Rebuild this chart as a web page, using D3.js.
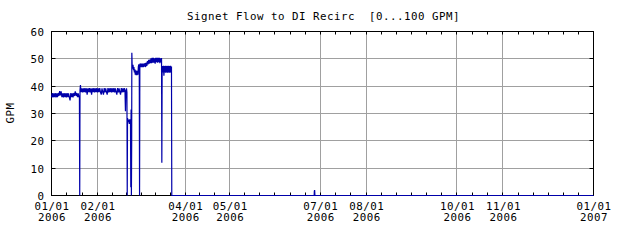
<!DOCTYPE html>
<html><head><meta charset="utf-8">
<script src="https://cdn.jsdelivr.net/npm/d3@7"></script>
<style>
html,body{margin:0;padding:0;background:#fff;}
svg{display:block;}
text{font-family:"DejaVu Sans Mono",monospace;font-size:10.8px;fill:#000;letter-spacing:0.5px;}
</style>
</head><body><svg id="chart" width="640" height="240"></svg>
<script>
const titleText = "Signet Flow to DI Recirc  [0...100 GPM]";
const yLabel = "GPM";
const yTicks = [0, 10, 20, 30, 40, 50, 60];
const xTickDates = ["2006-01-01","2006-02-01","2006-04-01","2006-05-01","2006-07-01","2006-08-01","2006-10-01","2006-11-01","2007-01-01"];
const xTickLabels = [["01/01","2006"],["02/01","2006"],["04/01","2006"],["05/01","2006"],["07/01","2006"],["08/01","2006"],["10/01","2006"],["11/01","2006"],["01/01","2007"]];

// days since 2006-01-01
const sampleDay = [
  0, 0.5, 1, 1.5, 2, 2.5, 3, 3.5, 4, 4.5,
  5, 5.5, 6, 6.5, 7, 7.5, 8, 8.5, 9, 9.5,
  10, 10.5, 11, 11.5, 12, 12.5, 13, 13.5, 14, 14.5,
  15, 15.5, 16, 16.5, 17, 17.5, 18, 18.5, 18.8, 19.0,
  19.2, 19.5, 19.8, 20, 20.5, 21, 21.5, 22, 22.5, 23,
  23.5, 24, 24.5, 25, 25.5, 26, 26.5, 27, 27.5, 28,
  28.5, 29, 29.5, 30, 30.5, 31, 31.5, 32, 32.5, 33,
  33.5, 34, 34.5, 35, 35.5, 36, 36.5, 37, 37.5, 38,
  38.5, 39, 39.5, 40, 40.5, 41, 41.5, 42, 42.5, 43,
  43.5, 44, 44.5, 45, 45.5, 46, 46.5, 47, 47.5, 48,
  48.5, 49, 49.5, 49.8, 50.1, 50.5, 50.8, 51.0, 51.2, 51.6,
  52.0, 52.4, 52.8, 53.2, 53.4, 53.6, 53.8, 54.0, 54.1, 54.3,
  54.6, 54.9, 55.2, 55.5, 55.8, 56.1, 56.4, 56.7, 57.0, 57.3,
  57.6, 57.9, 58.2, 58.5, 58.8, 59.1, 59.3, 59.5, 59.8, 60.2,
  60.6, 61.0, 61.4, 61.8, 62.2, 62.6, 63.0, 63.4, 63.8, 64.2,
  64.6, 65.0, 65.4, 65.8, 66.2, 66.6, 67.0, 67.4, 67.8, 68.2,
  68.6, 69.0, 69.4, 69.8, 70.2, 70.6, 71.0, 71.4, 71.8, 72.2,
  72.6, 73.0, 73.4, 73.8, 74.1, 74.3, 74.5, 74.8, 75.1, 75.4,
  75.7, 76.0, 76.3, 76.6, 76.9, 77.2, 77.5, 77.8, 78.1, 78.4,
  78.7, 79.0, 79.3, 79.6, 79.9, 80.2, 80.5, 80.8, 81.0, 176.9,
  177.0, 177.2, 177.4, 365
];
const sampleGpm = [
  35.9, 37.5, 35.9, 37.4, 36.0, 37.5, 35.9, 37.4, 36.0, 37.5,
  36.4, 38.2, 36.6, 38.1, 36.0, 37.4, 35.9, 37.5, 36.0, 37.4,
  35.9, 37.5, 36.0, 37.4, 35.9, 34.8, 37.5, 36.0, 37.4, 35.9,
  37.5, 36.4, 38.1, 36.5, 37.5, 36.0, 37.4, 35.9, 36.6, 0,
  38.6, 40.4, 38.2, 37.8, 39.2, 37.7, 39.2, 37.8, 39.3, 37.7,
  39.2, 36.9, 39.2, 37.8, 39.3, 37.7, 39.2, 36.9, 39.2, 37.8,
  39.3, 37.7, 39.2, 37.8, 39.3, 37.7, 39.2, 37.8, 39.3, 37.7,
  36.9, 39.2, 37.8, 36.9, 39.3, 37.7, 39.2, 37.8, 36.9, 39.3,
  37.7, 39.2, 37.8, 39.3, 37.7, 39.2, 37.8, 39.3, 37.7, 39.2,
  37.8, 36.9, 39.3, 37.7, 39.2, 37.8, 36.9, 39.3, 37.7, 39.2,
  37.8, 39.3, 37.7, 30.8, 38.5, 39.2, 37.8, 0, 28.3, 26.8,
  27.8, 26.2, 27.9, 26.3, 3.0, 31.5, 0, 20.0, 52.2, 48.0,
  46.4, 47.8, 45.8, 47.0, 45.0, 46.2, 44.2, 45.8, 44.0, 45.6,
  44.0, 45.6, 44.2, 47.2, 48.0, 47.0, 0, 47.6, 48.3, 47.0,
  48.3, 47.0, 48.3, 47.0, 48.3, 47.1, 48.4, 47.0, 48.6, 47.4,
  49.2, 48.0, 49.6, 48.2, 49.7, 48.4, 50.2, 48.4, 50.4, 48.6,
  50.4, 48.6, 50.2, 48.2, 50.4, 48.8, 50.4, 48.6, 50.4, 48.8,
  50.4, 48.4, 50.2, 48.8, 50.3, 12.0, 45.5, 47.4, 45.0, 47.5,
  43.8, 47.4, 45.0, 47.5, 44.9, 47.4, 45.0, 47.5, 44.9, 47.4,
  45.0, 47.5, 44.9, 47.4, 45.0, 47.5, 44.9, 47.2, 0, 0,
  1.6, 2.0, 0, 0
];

const plotLeft = 51.5, plotRight = 593.5, plotTop = 31.5, plotBottom = 195.5;
const lineColor = "#0000aa", gridColor = "#a0a0a0";
const parse = d3.utcParse("%Y-%m-%d");
const t0 = parse("2006-01-01");
const x = d3.scaleUtc().domain([t0, parse("2007-01-01")]).range([plotLeft, plotRight]);
const y = d3.scaleLinear().domain([0, 60]).range([plotBottom, plotTop]);
const snap = v => Math.round(v - 0.5) + 0.5;

const svg = d3.select("#chart");
const majors = xTickDates.map(parse);

// grid
const g = svg.append("g");
g.selectAll("line.vg").data(majors.slice(1, -1)).enter().append("line")
  .attr("x1", d => snap(x(d))).attr("x2", d => snap(x(d)))
  .attr("y1", plotTop).attr("y2", plotBottom)
  .attr("stroke", gridColor).attr("stroke-width", 1);
g.selectAll("line.hg").data(yTicks.slice(1, -1)).enter().append("line")
  .attr("x1", plotLeft).attr("x2", plotRight)
  .attr("y1", d => snap(y(d))).attr("y2", d => snap(y(d)))
  .attr("stroke", gridColor).attr("stroke-width", 1);

// frame
svg.append("rect").attr("x", plotLeft).attr("y", plotTop)
  .attr("width", plotRight - plotLeft).attr("height", plotBottom - plotTop)
  .attr("fill", "none").attr("stroke", "#000").attr("stroke-width", 1);

// x ticks (major + minor subdivisions of ~10 days)
const tickPos = [];
for (let i = 0; i < majors.length; i++) {
  tickPos.push(x(majors[i]));
  if (i < majors.length - 1) {
    const a = majors[i], b = majors[i + 1];
    const months = (b.getUTCFullYear() - a.getUTCFullYear()) * 12 + b.getUTCMonth() - a.getUTCMonth();
    const n = months * 3;
    for (let k = 1; k < n; k++) tickPos.push(x(a) + (x(b) - x(a)) * k / n);
  }
}
const tk = svg.append("g").attr("stroke", "#000").attr("stroke-width", 1);
tickPos.forEach(p => {
  const px = snap(p);
  tk.append("line").attr("x1", px).attr("x2", px).attr("y1", plotTop).attr("y2", plotTop + 3);
  tk.append("line").attr("x1", px).attr("x2", px).attr("y1", plotBottom).attr("y2", plotBottom - 3);
});
yTicks.forEach(v => {
  const py = snap(y(v));
  tk.append("line").attr("x1", plotLeft).attr("x2", plotLeft + 4).attr("y1", py).attr("y2", py);
  tk.append("line").attr("x1", plotRight).attr("x2", plotRight - 4).attr("y1", py).attr("y2", py);
});

// data
const pts = sampleDay.map((d, i) => ({ t: new Date(t0.getTime() + d * 864e5), v: sampleGpm[i] }));
svg.append("path").datum(pts)
  .attr("d", d3.line().x(d => x(d.t)).y(d => y(d.v)))
  .attr("fill", "none").attr("stroke", lineColor).attr("stroke-width", 1.2);

// labels
svg.append("text").attr("x", (plotLeft + plotRight) / 2 + 1).attr("y", 19.5)
  .attr("text-anchor", "middle").style("white-space", "pre").text(titleText);

svg.selectAll("text.yl").data(yTicks).enter().append("text")
  .attr("x", 44.5).attr("y", d => snap(y(d)) + 4)
  .attr("text-anchor", "end").text(d => d);

svg.append("text").attr("transform", "translate(14,113) rotate(-90)")
  .attr("text-anchor", "middle").text(yLabel);

const xl = svg.selectAll("text.xl").data(majors).enter().append("text")
  .attr("text-anchor", "middle");
xl.append("tspan").attr("x", d => x(d) + 0.5).attr("y", 210).text((d, i) => xTickLabels[i][0]);
xl.append("tspan").attr("x", d => x(d) + 0.5).attr("y", 221).text((d, i) => xTickLabels[i][1]);
</script>
</body></html>
